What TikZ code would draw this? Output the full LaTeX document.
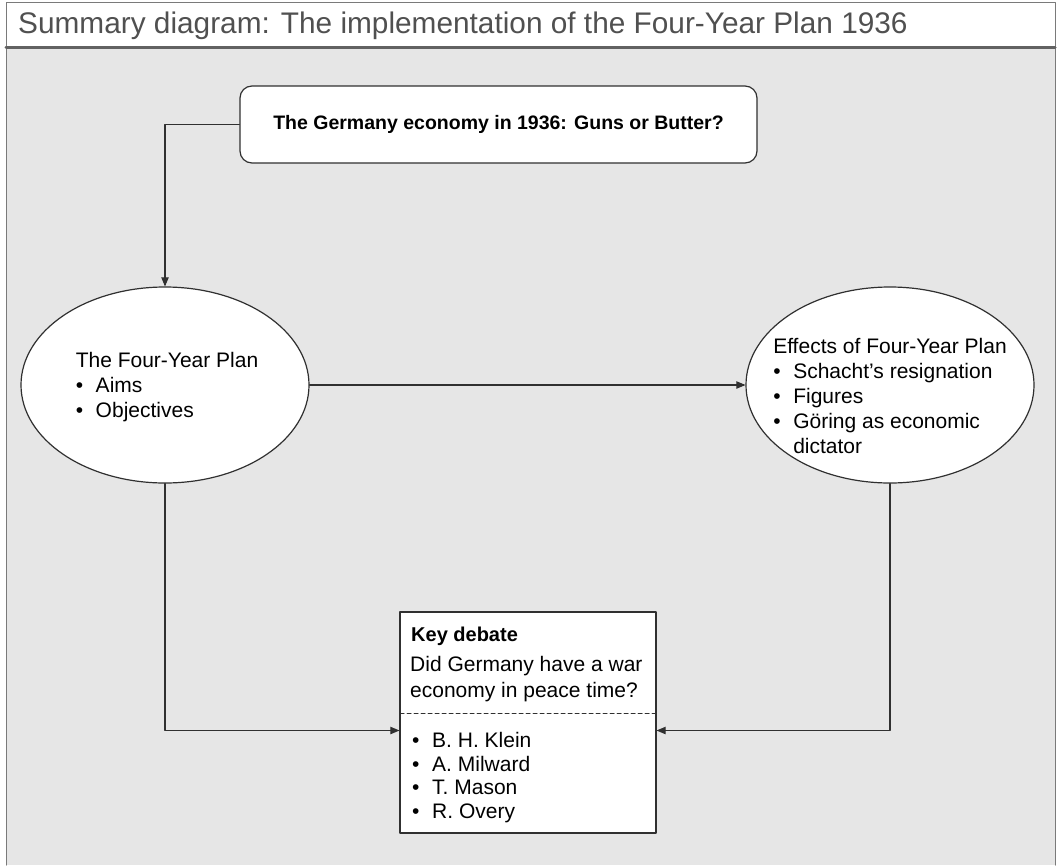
\documentclass[tikz,border=0pt]{standalone}
\usepackage{fontspec}
\setmainfont{Liberation Sans}
\usepackage{xcolor}
\usetikzlibrary{arrows}
\usetikzlibrary{arrows.meta,shapes.geometric}

\definecolor{panelgray}{HTML}{E6E6E6}
\definecolor{framegray}{HTML}{7A7A7A}
\definecolor{titlegray}{HTML}{505050}
\definecolor{linegray}{HTML}{303030}

\newcommand{\bul}{\makebox[20pt][l]{\textbullet}}

\tikzset{
    topbox/.style={draw=linegray, line width=1.2pt, rounded corners=12pt, fill=white,
        minimum width=517pt, minimum height=77pt, font=\fontsize{19.5}{23}\selectfont\bfseries},
    planoval/.style={draw=linegray, line width=1.2pt, ellipse, fill=white, inner sep=0pt,
        minimum width=288pt, minimum height=196pt},
    ovaltext/.style={inner sep=0pt, align=left, font=\fontsize{21}{24.8}\selectfont},
    keybox/.style={draw=linegray, line width=1.2pt, fill=white, minimum width=256pt, minimum height=221pt},
    keytext/.style={anchor=base west, inner sep=0pt, align=left},
    link/.style={draw=linegray, line width=1.1pt}
}

\begin{document}
\begin{tikzpicture}[line cap=round,line join=round,>=triangle 45,x=1pt,y=-1pt]
    \useasboundingbox (0,0) rectangle (1060,865);
    % frame and title
    \fill [panelgray] (6,47) rectangle (1055,865);
    \draw [framegray, line width=1pt] (6,865) -- (6,2) -- (1055,2) -- (1055,865);
    \draw [framegray!80!black, line width=3pt] (6,47) -- (1055,47);
    \node [anchor=base west, inner sep=0pt, text=titlegray, font=\fontsize{29.8}{32}\selectfont] (title) at (18,33)
        {Summary diagram: The implementation of the Four-Year Plan 1936};

    % boxes
    \node [topbox] (economy) at (498.5,124.5) {The Germany economy in 1936: Guns or Butter?};
    \node [planoval] (plan) at (165,385) {};
    \node [ovaltext] (plantext) at (167,387) {The Four-Year Plan\\ \bul Aims\\ \bul Objectives};
    \node [planoval] (effects) at (890,385) {};
    \node [ovaltext] (effectstext) at (890,396)
        {Effects of Four-Year Plan\\ \bul Schacht's resignation\\ \bul Figures\\ \bul G\"oring as economic\\ \hspace*{20pt}dictator};
    \node [keybox] (key) at (528,722.5) {};
    \node [keytext, font=\fontsize{20}{24}\selectfont\bfseries] (keyhead) at (411,641) {Key debate};
    \node [keytext, font=\fontsize{21}{25.5}\selectfont] (question) at (410,697)
        {Did Germany have a war\\ economy in peace time?};
    \coordinate (dashL) at (400,713);
    \coordinate (dashR) at (656,713);
    \draw [linegray, line width=1pt, dash pattern=on 4pt off 3pt] (dashL) -- (dashR);
    \node [keytext, font=\fontsize{21}{23.5}\selectfont] (historians) at (412,818)
        {\bul B. H. Klein\\ \bul A. Milward\\ \bul T. Mason\\ \bul R. Overy};

    % connectors
    \draw [link,->] (economy.west) -| (plan.north);
    \draw [link,->] (plan.east) -- (effects.west);
    \draw [link,->] (plan.south) |- ([yshift=-8pt]key.west);
    \draw [link,->] (effects.south) |- ([yshift=-8pt]key.east);
\end{tikzpicture}
\end{document}
